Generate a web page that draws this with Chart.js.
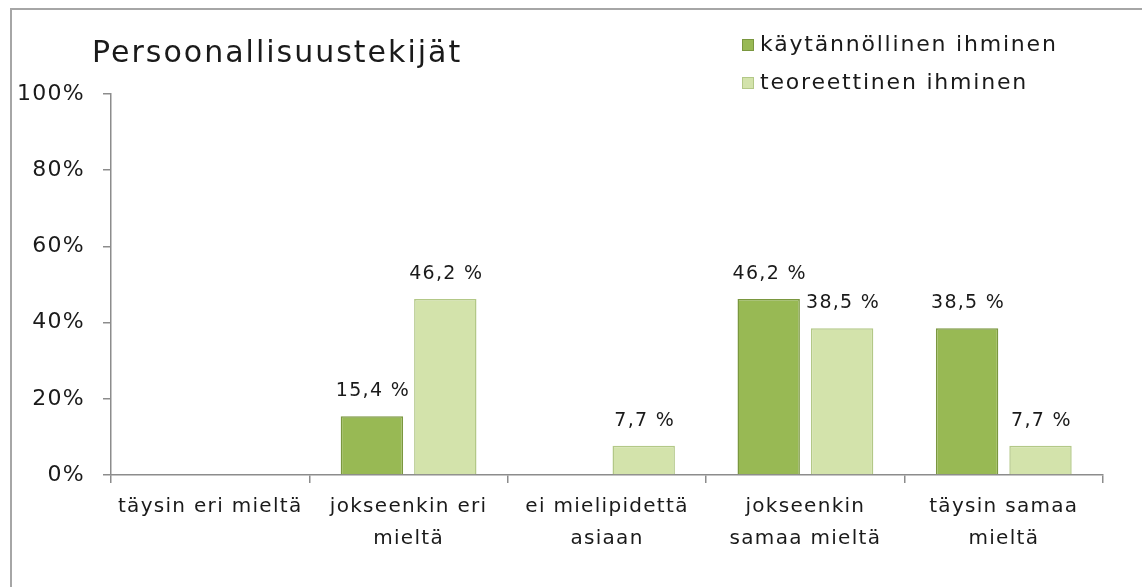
<!DOCTYPE html>
<html>
<head>
<meta charset="utf-8">
<script src="https://cdn.jsdelivr.net/npm/chart.js@4"></script>
<style>
  html, body { margin: 0; padding: 0; background: #fff; overflow: hidden; }
  #chart { display: block; }
</style>
</head>
<body>
<canvas id="chart" width="1142" height="587"></canvas>
<script>
// data
const categories = [
    'täysin eri mieltä',
    ['jokseenkin eri', 'mieltä'],
    ['ei mielipidettä', 'asiaan'],
    ['jokseenkin', 'samaa mieltä'],
    ['täysin samaa', 'mieltä']
];
const seriesNames = ['käytännöllinen ihminen', 'teoreettinen ihminen'];
const kaytannollinen = [0, 15.4, 0, 46.2, 38.5];
const teoreettinen = [0, 46.2, 7.7, 38.5, 7.7];
const yTicks = [0, 20, 40, 60, 80, 100];

const titleText = 'Persoonallisuustekijät';
const darkGreen = '#98b954';
const darkEdge = '#7a973f';
const lightGreen = '#d3e3ab';
const lightEdge = '#b3c887';
const font = 'DejaVu Sans, Verdana, sans-serif';
const spacing = '1.3px';

// letter spacing like the original
const spacingPlugin = {
    id: 'spacing',
    beforeLayout(chart) { chart.ctx.letterSpacing = spacing; },
    beforeDraw(chart) {
        const ctx = chart.ctx;
        ctx.letterSpacing = spacing;
        // outer frame (only left and top edges are visible in the original)
        ctx.save();
        ctx.strokeStyle = '#a6a6a6';
        ctx.lineWidth = 2;
        ctx.beginPath();
        ctx.moveTo(11, chart.height);
        ctx.lineTo(11, 9);
        ctx.lineTo(chart.width, 9);
        ctx.stroke();
        ctx.restore();
    }
};

// title and legend in the top area
const headerPlugin = {
    id: 'header',
    afterDraw(chart) {
        const ctx = chart.ctx;
        ctx.save();
        ctx.fillStyle = '#1a1a1a';
        ctx.textBaseline = 'middle';
        ctx.letterSpacing = '2px';
        ctx.font = '30px ' + font;
        ctx.fillText(titleText, 92, 54);

        ctx.letterSpacing = '1.8px';
        ctx.font = '22px ' + font;
        const rows = [45, 83];
        const fills = [darkGreen, lightGreen];
        const edges = [darkEdge, lightEdge];
        seriesNames.forEach((name, i) => {
            ctx.fillStyle = fills[i];
            ctx.fillRect(742, rows[i] - 6, 12, 12);
            ctx.strokeStyle = edges[i];
            ctx.lineWidth = 1;
            ctx.strokeRect(742.5, rows[i] - 5.5, 11, 11);
            ctx.fillStyle = '#1a1a1a';
            ctx.fillText(name, 760, rows[i]);
        });
        ctx.restore();
    }
};

// value labels above bars
const valueLabels = {
    id: 'valueLabels',
    afterDatasetsDraw(chart) {
        const ctx = chart.ctx;
        ctx.save();
        ctx.letterSpacing = spacing;
        ctx.font = '19px ' + font;
        ctx.fillStyle = '#1a1a1a';
        ctx.textAlign = 'center';
        ctx.textBaseline = 'middle';
        chart.data.datasets.forEach((ds, di) => {
            chart.getDatasetMeta(di).data.forEach((bar, i) => {
                const v = ds.data[i];
                if (!v) return;
                ctx.fillText(v.toFixed(1).replace('.', ',') + ' %', bar.x + 1, bar.y - 25);
            });
        });
        ctx.restore();
    }
};

const chart = new Chart(document.getElementById('chart'), {
    type: 'bar',
    data: {
        labels: categories,
        datasets: [{
            label: seriesNames[0],
            data: kaytannollinen,
            backgroundColor: darkGreen,
            borderColor: darkEdge,
            borderWidth: 1.5
        }, {
            label: seriesNames[1],
            data: teoreettinen,
            backgroundColor: lightGreen,
            borderColor: lightEdge,
            borderWidth: 1.5
        }]
    },
    options: {
        responsive: false,
        animation: false,
        categoryPercentage: 0.74,
        barPercentage: 0.85,
        layout: { padding: { top: 94, right: 39, left: 0, bottom: 0 } },
        plugins: {
            legend: { display: false },
            title: { display: false },
            tooltip: { enabled: false }
        },
        scales: {
            x: {
                grid: { drawOnChartArea: false, offset: true, tickLength: 8, color: '#8c8c8c', lineWidth: 1.5 },
                border: { color: '#8c8c8c', width: 1.5 },
                ticks: {
                    color: '#1a1a1a',
                    font: { family: font, size: 20, lineHeight: 1.6 },
                    padding: 8,
                    maxRotation: 0,
                    autoSkip: false
                },
                afterFit(axis) { axis.height = 112; }
            },
            y: {
                min: 0,
                max: 100,
                afterBuildTicks(axis) { axis.ticks = yTicks.map(v => ({ value: v })); },
                grid: { drawOnChartArea: false, tickLength: 8, color: '#8c8c8c', lineWidth: 1.5 },
                border: { color: '#8c8c8c', width: 1.5 },
                ticks: {
                    color: '#1a1a1a',
                    font: { family: font, size: 22 },
                    padding: 18,
                    callback: v => v + '%'
                },
                afterFit(axis) { axis.width = 111; }
            }
        }
    },
    plugins: [spacingPlugin, headerPlugin, valueLabels]
});
</script>
</body>
</html>
